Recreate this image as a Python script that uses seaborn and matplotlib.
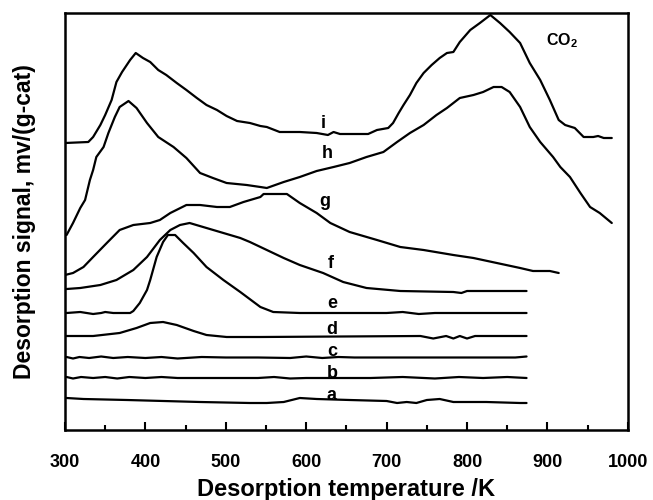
import numpy as np
import pandas as pd
import matplotlib
matplotlib.use("Agg")
import matplotlib.pyplot as plt
from matplotlib.ticker import MultipleLocator
import seaborn as sns

# ---- data (temperature K, signal in arbitrary offset units) ----
i_T = [300, 329, 335, 344, 350, 358, 364, 371, 381, 388, 397, 406, 416, 426, 439, 451, 464, 476, 489, 501,
       514, 530, 543, 551, 567, 592, 613, 627, 634, 642, 677, 688, 702, 708, 715, 721, 729, 737, 746, 756,
       766, 775, 783, 791, 804, 816, 829, 841, 853, 866, 878, 891, 903, 914, 922, 934, 945, 957, 963, 970, 980]
i_S = [287, 288, 293, 305, 315, 330, 348, 358, 370, 377, 372, 368, 360, 355, 347, 340, 332, 325, 320, 314,
       309, 307, 304, 303, 298, 298, 297, 295, 298, 296, 296, 300, 302, 307, 317, 325, 335, 347, 357, 365,
       372, 377, 378, 388, 400, 407, 415, 407, 398, 387, 367, 350, 330, 310, 305, 302, 293, 293, 294, 292, 292]

h_T = [302, 310, 319, 325, 331, 335, 339, 348, 354, 362, 368, 379, 389, 402, 416, 435, 451, 468, 484, 501,
       526, 543, 551, 572, 592, 613, 634, 654, 675, 696, 713, 729, 746, 762, 775, 791, 808, 820, 833, 843,
       853, 866, 878, 891, 907, 916, 928, 941, 953, 965, 980]
h_S = [195, 207, 222, 230, 250, 260, 273, 283, 297, 313, 323, 329, 322, 307, 293, 283, 272, 257, 252, 247,
       245, 243, 242, 248, 253, 259, 263, 267, 273, 278, 288, 297, 305, 315, 322, 332, 335, 338, 343, 343,
       338, 323, 303, 288, 273, 263, 253, 237, 223, 217, 207]

g_T = [300, 310, 323, 335, 352, 368, 385, 406, 418, 431, 451, 468, 489, 505, 522, 543, 547, 576, 592, 613,
       630, 654, 688, 717, 746, 783, 808, 837, 866, 882, 903, 914]
g_S = [155, 157, 163, 173, 187, 200, 205, 207, 210, 217, 225, 225, 223, 223, 228, 233, 236, 236, 227, 217,
       207, 198, 190, 183, 180, 175, 172, 167, 162, 159, 159, 157]

f_T = [302, 319, 344, 364, 385, 402, 418, 431, 443, 455, 476, 497, 518, 530, 551, 572, 592, 621, 646, 675,
       717, 783, 793, 800, 874]
f_S = [141, 142, 145, 150, 160, 173, 190, 200, 205, 207, 202, 197, 192, 188, 180, 172, 165, 157, 148, 142,
       139, 138, 137, 139, 139]

e_T = [302, 319, 335, 345, 350, 360, 381, 385, 393, 402, 406, 414, 422, 428, 437, 447, 460, 476, 497, 518,
       543, 559, 592, 640, 700, 720, 740, 760, 800, 874]
e_S = [117, 118, 116, 117, 118, 117, 117, 119, 127, 140, 150, 173, 188, 195, 195, 187, 177, 163, 150, 138,
       123, 118, 117, 117, 117, 118, 116, 117, 117, 117]

d_T = [302, 335, 368, 389, 406, 422, 439, 460, 476, 501, 526, 543, 742, 758, 774, 783, 791, 800, 810, 874]
d_S = [94, 94, 97, 102, 107, 108, 105, 99, 95, 93, 93, 93, 94, 91.5, 94, 91.5, 94, 91.5, 94, 94]

c_T = [302, 310, 318, 330, 345, 360, 378, 400, 420, 440, 470, 500, 540, 580, 600, 620, 640, 660, 700, 760,
       800, 830, 860, 874]
c_S = [73, 71.5, 73, 72, 73.5, 72, 73, 72, 73, 71.5, 73, 72.5, 72.5, 72, 73.5, 72, 73, 72.5, 72.5, 72.5,
       72.5, 72.5, 72.5, 73.5]

b_T = [302, 310, 320, 335, 350, 365, 380, 400, 420, 440, 470, 500, 540, 560, 580, 600, 640, 680, 720, 760,
       790, 820, 850, 874]
b_S = [53, 51.5, 53, 52, 53, 51.5, 53, 52, 53, 52, 52, 52, 52, 53, 51.5, 52, 52, 52, 53, 51.5, 53, 52, 53, 52]

a_T = [302, 323, 377, 468, 530, 551, 572, 592, 613, 654, 700, 713, 725, 737, 750, 766, 783, 824, 866, 874]
a_S = [32, 31, 30, 28, 27, 27, 28, 32, 31, 30, 29, 27, 28, 27, 30, 31, 28, 28, 27, 27]

curve_names = ["a", "b", "c", "d", "e", "f", "g", "h", "i"]
curve_T = [a_T, b_T, c_T, d_T, e_T, f_T, g_T, h_T, i_T]
curve_S = [a_S, b_S, c_S, d_S, e_S, f_S, g_S, h_S, i_S]

# label positions (T, signal)
label_T = [632, 632, 632, 632, 632, 630, 623, 626, 621]
label_S = [35, 57, 78, 100, 127, 167, 228, 277, 307]

x_ticks = [300, 400, 500, 600, 700, 800, 900, 1000]

# ---- plot ----
sns.set_style("ticks")
plt.rcParams["font.family"] = ["Liberation Sans", "DejaVu Sans"]
plt.rcParams["font.weight"] = "bold"
plt.rcParams["text.color"] = "black"
plt.rcParams["axes.labelcolor"] = "black"
plt.rcParams["xtick.color"] = "black"
plt.rcParams["ytick.color"] = "black"

fig = plt.figure(figsize=(6.53, 5.0), dpi=100)
ax = fig.add_axes([0.0995, 0.14, 0.862, 0.834])

frames = []
for name, T, S in zip(curve_names, curve_T, curve_S):
    frames.append(pd.DataFrame({"T": T, "S": S, "curve": name}))
df = pd.concat(frames, ignore_index=True)

sns.lineplot(data=df, x="T", y="S", units="curve", estimator=None, sort=False,
             color="black", linewidth=1.6, ax=ax, legend=False)

for name, lt, ls in zip(curve_names, label_T, label_S):
    ax.text(lt, ls, name, ha="center", va="center", fontsize=13, fontweight="bold", color="black")

ax.text(918, 389, "CO$_\\mathregular{2}$", ha="center", va="center", fontsize=11.5,
        fontweight="bold", color="black")

ax.set_xlim(300, 1000)
ax.set_ylim(0, 417)
ax.set_xticks(x_ticks)
ax.xaxis.set_minor_locator(MultipleLocator(50))
ax.set_yticks([])
ax.tick_params(axis="x", which="major", direction="in", length=6, width=1.5, pad=17,
               labelsize=13, top=False, colors="black")
ax.tick_params(axis="x", which="minor", direction="in", length=3.5, width=1.5, top=False)
for lbl in ax.get_xticklabels():
    lbl.set_fontweight("bold")
for sp in ax.spines.values():
    sp.set_visible(True)
    sp.set_linewidth(1.8)
    sp.set_color("black")

ax.set_xlabel("Desorption temperature /K", fontsize=17, fontweight="bold", labelpad=5)
ax.set_ylabel("Desorption signal, mv/(g-cat)", fontsize=16.5, fontweight="bold", labelpad=21)

fig.savefig("out.png", dpi=100)
